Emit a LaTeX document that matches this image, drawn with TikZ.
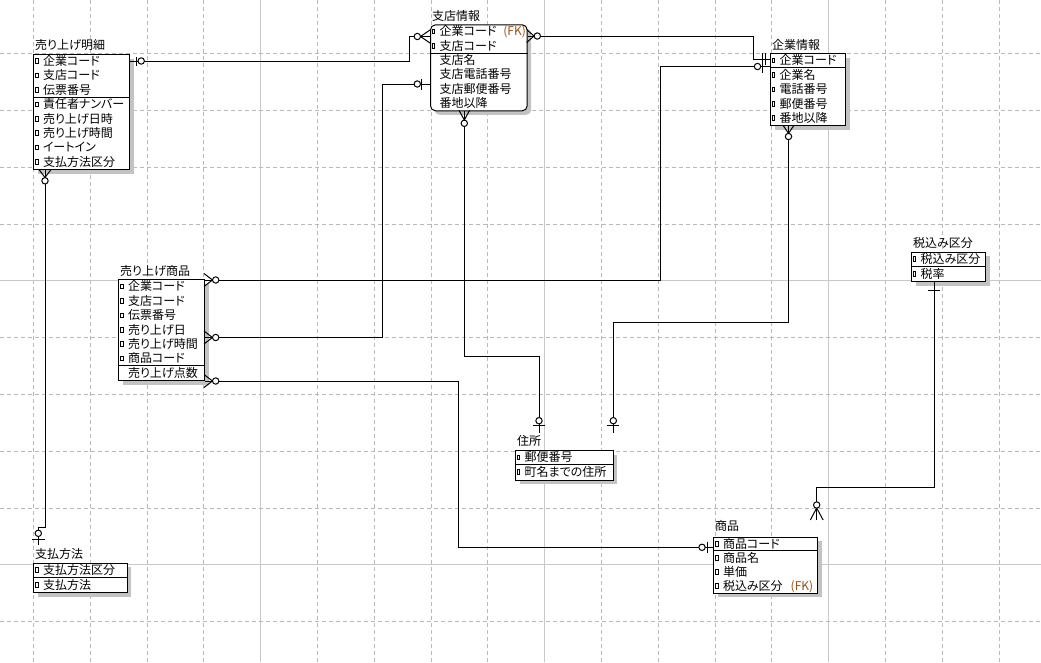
\documentclass[tikz,border=0pt]{standalone}
\usepackage{fontspec}
\setmainfont{Noto Sans CJK JP}[RawFeature=+palt]
\usetikzlibrary{shadows,calc}
\definecolor{fkc}{RGB}{150,80,20}
\definecolor{gridc}{RGB}{185,185,185}
\definecolor{gridm}{RGB}{200,200,200}
\definecolor{shadc}{RGB}{195,195,195}
\newcommand{\erKeyRow}[4]{%
  \draw[icon] ({#2+2},{#3-2.4}) rectangle ({#2+4.6},{#3+2.2});
  \node[rowtxt] (#1) at ({#2+9.5},{#3+4.3}) {#4};}
\newcommand{\erRow}[4]{\node[rowtxt] (#1) at ({#2+9.5},{#3+4.3}) {#4};}
\begin{document}
\begin{tikzpicture}[x=1pt,y=-1pt,
  ent/.style={draw, line width=1pt, fill=white, inner sep=0pt, anchor=north west,
    general shadow={fill=shadc, shadow xshift=4pt, shadow yshift=-4pt}},
  rowtxt/.style={anchor=base west, inner sep=0pt, font=\fontsize{12}{12}\selectfont},
  conn/.style={line width=1pt},
  mk/.style={line width=1pt},
  ring/.style={line width=1pt, fill=white},
  icon/.style={line width=0.7pt},
  sep/.style={line width=1pt},
  gridminor/.style={gridc, line width=0.8pt, dash pattern=on 4pt off 3pt},
  gridmajor/.style={gridm, line width=0.8pt}]
\fill[white] (0,0) rectangle (1041,662);
\useasboundingbox (0,0) rectangle (1041,662);
% grid
\foreach \gx in {33.3,90.1,146.9,203.7,317.3,374.1,430.9,487.7,601.3,658.1,714.9,771.7,885.3,942.1,998.9}
  \draw[gridminor] (\gx,0) -- (\gx,662);
\foreach \gx in {260.5,544.5,828.5} \draw[gridmajor] (\gx,0) -- (\gx,662);
\foreach \gy in {53.5,110.3,167.1,223.9,337.5,394.3,451.1,507.9,621.5}
  \draw[gridminor] (0,\gy) -- (1041,\gy);
\foreach \gy in {280.7,564.7} \draw[gridmajor] (0,\gy) -- (1041,\gy);

% ---------- entities ----------
% 売り上げ明細
\node[ent, minimum width=96, minimum height=115.2] (meisai) at (33.3,54) {};
\node[rowtxt] (meisai-t) at (35,49.8) {売り上げ明細};
\draw[sep] (meisai.west |- 0,97.2) -- (meisai.east |- 0,97.2);
\foreach \t [count=\i] in {企業コード,支店コード,伝票番号}
  {\erKeyRow{meisai-k\i}{33.3}{54+14.4*(\i-0.5)}{\t}}
\foreach \t [count=\i] in {責任者ナンバー,売り上げ日時,売り上げ時間,イートイン,支払方法区分}
  {\erKeyRow{meisai-a\i}{33.3}{97.2+14.4*(\i-0.5)}{\t}}

% 支店情報
\node[ent, rounded corners=5pt, minimum width=96.7, minimum height=86] (shiten) at (430,24.3) {};
\node[rowtxt] (shiten-t) at (432,20.1) {支店情報};
\draw[sep] (shiten.west |- 0,53.1) -- (shiten.east |- 0,53.1);
\erKeyRow{shiten-k1}{430}{31.5}{企業コード\hspace{7pt}\textcolor{fkc}{(FK)}}
\erKeyRow{shiten-k2}{430}{45.9}{支店コード}
\foreach \t [count=\i] in {支店名,支店電話番号,支店郵便番号,番地以降}
  {\erRow{shiten-a\i}{430}{53.1+14.3*(\i-0.5)}{\t}}

% 企業情報
\node[ent, minimum width=75, minimum height=72] (kigyo) at (770,53.3) {};
\node[rowtxt] (kigyo-t) at (772,49.1) {企業情報};
\draw[sep] (kigyo.west |- 0,67.7) -- (kigyo.east |- 0,67.7);
\erKeyRow{kigyo-k1}{770}{60.5}{企業コード}
\foreach \t [count=\i] in {企業名,電話番号,郵便番号,番地以降}
  {\erKeyRow{kigyo-a\i}{770}{67.7+14.4*(\i-0.5)}{\t}}

% 売り上げ商品
\node[ent, minimum width=85.7, minimum height=100.8] (ushohin) at (118.3,279.3) {};
\node[rowtxt] (ushohin-t) at (120,275.1) {売り上げ商品};
\draw[sep] (ushohin.west |- 0,365.7) -- (ushohin.east |- 0,365.7);
\foreach \t [count=\i] in {企業コード,支店コード,伝票番号,売り上げ日,売り上げ時間,商品コード}
  {\erKeyRow{ushohin-k\i}{118.3}{279.3+14.4*(\i-0.5)}{\t}}
\erRow{ushohin-a1}{118.3}{372.9}{売り上げ点数}

% 住所
\node[ent, minimum width=97.5, minimum height=29.6] (jusho) at (515,450) {};
\node[rowtxt] (jusho-t) at (517,445.8) {住所};
\draw[sep] (jusho.west |- 0,464.8) -- (jusho.east |- 0,464.8);
\erKeyRow{jusho-k1}{515}{457.4}{郵便番号}
\erKeyRow{jusho-a1}{515}{472.2}{町名までの住所}

% 税込み区分
\node[ent, minimum width=74, minimum height=29.6] (zei) at (911,251.7) {};
\node[rowtxt] (zei-t) at (913,247.5) {税込み区分};
\draw[sep] (zei.west |- 0,266.5) -- (zei.east |- 0,266.5);
\erKeyRow{zei-k1}{911}{259.1}{税込み区分}
\erKeyRow{zei-a1}{911}{273.9}{税率}

% 商品
\node[ent, minimum width=103.7, minimum height=56] (shohin) at (713.3,536.7) {};
\node[rowtxt] (shohin-t) at (715,530) {商品};
\draw[sep] (shohin.west |- 0,550.7) -- (shohin.east |- 0,550.7);
\erKeyRow{shohin-k1}{713.3}{543.7}{商品コード}
\erKeyRow{shohin-a1}{713.3}{557.7}{商品名}
\erKeyRow{shohin-a2}{713.3}{571.7}{単価}
\erKeyRow{shohin-a3}{713.3}{585.7}{税込み区分\hspace{8pt}\textcolor{fkc}{(FK)}}

% 支払方法
\node[ent, minimum width=93.4, minimum height=29.4] (shiharai) at (33.3,562.7) {};
\node[rowtxt] (shiharai-t) at (35,558.3) {支払方法};
\draw[sep] (shiharai.west |- 0,577.4) -- (shiharai.east |- 0,577.4);
\erKeyRow{shiharai-k1}{33.3}{570.05}{支払方法区分}
\erKeyRow{shiharai-a1}{33.3}{584.75}{支払方法}

% ---------- connectors ----------
% 売り上げ明細 -> 支店情報
\draw[conn] (meisai.east |- 0,61) -- (409.5,61) -- (409.5,36.5) -- (shiten.west |- 0,36.5);
\draw[mk] (136,56.5) -- (136,65.5);
\draw[ring] (141.2,61) circle (3.2);
\draw[mk] (430,30) -- (420.5,36.5) -- (430,43);
\draw[ring] (417.3,36.5) circle (3.2);

% 支店情報 -> 企業情報
\draw[conn] (shiten.east |- 0,36) -- (753,36) -- (753,59) -- (kigyo.west |- 0,59);
\draw[mk] (526.7,29.5) -- (534,36) -- (526.7,42.5);
\draw[ring] (537.3,36) circle (3.2);
\draw[mk] (762,53) -- (762,65);
\draw[mk] (765.5,53) -- (765.5,65);

% 売り上げ商品 -> 企業情報
\draw[conn] (ushohin.east |- 0,280) -- (660.7,280) -- (660.7,66.5) -- (kigyo.west |- 0,66.5);
\draw[mk] (204,273.5) -- (212.5,280) -- (204,286.5);
\draw[ring] (215.7,280) circle (3.2);
\draw[mk] (762,60.5) -- (762,72.5);
\draw[ring] (757.5,66.5) circle (3.2);

% 売り上げ商品 -> 支店情報
\draw[conn] (ushohin.east |- 0,337.5) -- (382,337.5) -- (382,84) -- (shiten.west |- 0,84);
\draw[mk] (204,331) -- (212.5,337.5) -- (204,344);
\draw[ring] (215.7,337.5) circle (3.2);
\draw[mk] (421.7,78.5) -- (421.7,89.5);
\draw[ring] (417.3,84) circle (3.2);

% 売り上げ商品 -> 商品
\draw[conn] (ushohin.east |- 0,381) -- (458.7,381) -- (458.7,547.3) -- (shohin.west |- 0,547.3);
\draw[mk] (204,374.5) -- (212.5,381) -- (204,387.5);
\draw[ring] (215.7,381) circle (3.2);
\draw[mk] (707,541.5) -- (707,553);
\draw[ring] (702,547.3) circle (3.2);

% 支店情報 -> 住所
\coordinate (jA) at (539,433);
\draw[conn] (shiten.south -| 464.3,0) -- (464.3,356.5) -- (539,356.5) -- (jA);
\draw[mk] (459,110.3) -- (464.3,120) -- (469.6,110.3);
\draw[ring] (464.3,123.3) circle (3.2);
\draw[mk] (533,425.5) -- (545,425.5);
\draw[ring] (539,420.7) circle (3.2);

% 企業情報 -> 住所
\coordinate (jB) at (613.3,433);
\draw[conn] (kigyo.south -| 788.5,0) -- (788.5,322.5) -- (613.3,322.5) -- (jB);
\draw[mk] (783,125.3) -- (788.5,133.3) -- (794,125.3);
\draw[ring] (788.5,136.5) circle (3.2);
\draw[mk] (607.3,425.5) -- (619.3,425.5);
\draw[ring] (613.3,420.7) circle (3.2);

% 税込み区分 -> 商品
\coordinate (sA) at (816.7,520);
\draw[conn] (zei.south -| 934,0) -- (934,487.3) -- (816.7,487.3) -- (sA);
\draw[mk] (928,290) -- (940,290);
\draw[mk] (810.3,520) -- (816.7,508) -- (823.1,520);
\draw[ring] (816.7,505) circle (3.2);

% 売り上げ明細 -> 支払方法
\coordinate (pA) at (38.3,545);
\draw[conn] (meisai.south -| 45,0) -- (45,527) -- (38.3,527) -- (pA);
\draw[mk] (38.7,169.2) -- (45,177.5) -- (51.3,169.2);
\draw[ring] (45,180.8) circle (3.2);
\draw[mk] (32,539) -- (45,539);
\draw[ring] (38.3,533.3) circle (3.2);
\end{tikzpicture}
\end{document}
